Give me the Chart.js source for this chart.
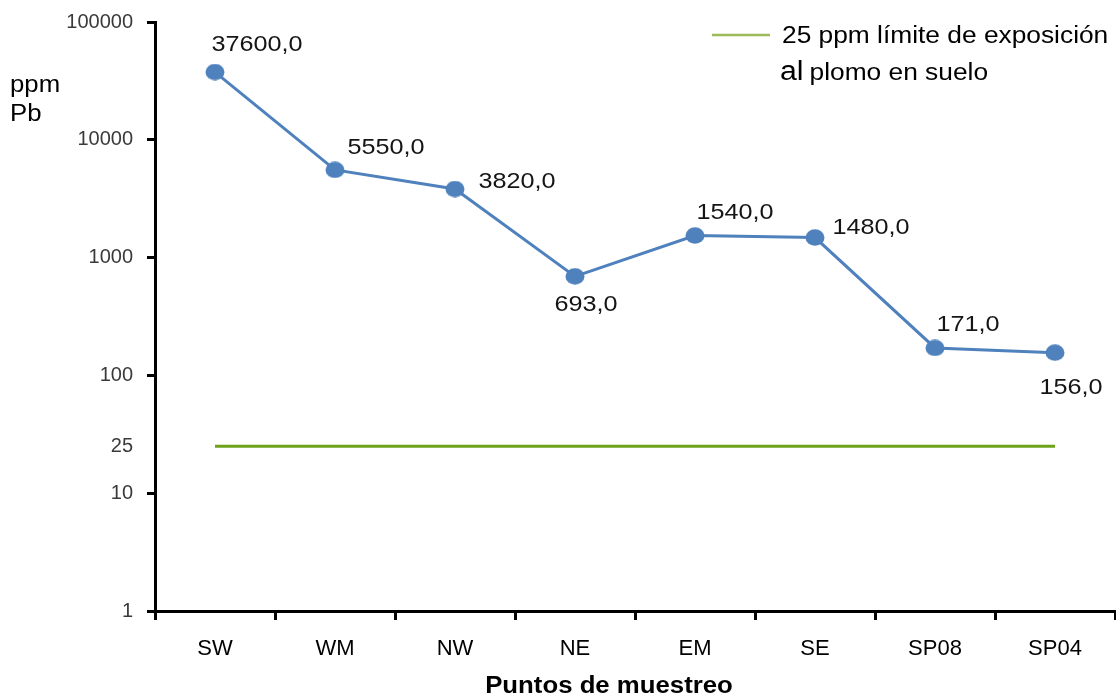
<!DOCTYPE html>
<html>
<head>
<meta charset="utf-8">
<script src="https://cdn.jsdelivr.net/npm/chart.js@4/dist/chart.umd.min.js"></script>
<style>
  html, body { margin: 0; padding: 0; background: #ffffff; }
  #wrap { position: relative; width: 1116px; height: 698px; }
</style>
</head>
<body>
<div id="wrap"><canvas id="c" width="1116" height="698"></canvas></div>
<script>
// Sampling points and measured lead concentration (ppm)
const categories = ['SW', 'WM', 'NW', 'NE', 'EM', 'SE', 'SP08', 'SP04'];
const leadPpm = [37600, 5550, 3820, 693, 1540, 1480, 171, 156];
// Soil exposure limit (ppm)
const exposureLimit = [25, 25, 25, 25, 25, 25, 25, 25];
// Logarithmic axis ticks
const yTickValues = [1, 10, 25, 100, 1000, 10000, 100000];

// Where each value label sits relative to its point (dx, dy)
const labelOffsets = [
  [42, -27], [51, -22], [62, -7], [11, 28], [40, -23], [56, -10], [33, -23], [16, 35]
];

const FONT = '"Liberation Sans", Arial, sans-serif';
const STRETCH = 1.12;

// Slightly wide oval marker
function makeMarker(color) {
  const c = document.createElement('canvas');
  c.width = 20; c.height = 17;
  const g = c.getContext('2d');
  g.fillStyle = color;
  g.beginPath();
  g.ellipse(10, 8.5, 9.5, 8.2, 0, 0, Math.PI * 2);
  g.fill();
  return c;
}

function wideText(ctx, txt, x, y, align) {
  ctx.save();
  ctx.translate(x, y);
  ctx.scale(STRETCH, 1);
  ctx.textAlign = align;
  ctx.fillText(txt, 0, 0);
  const w = ctx.measureText(txt).width * STRETCH;
  ctx.restore();
  return w;
}

const overlay = {
  id: 'overlay',
  afterDatasetsDraw(chart) {
    const ctx = chart.ctx;
    const meta = chart.getDatasetMeta(0);
    ctx.save();
    ctx.textBaseline = 'middle';
    ctx.font = '22.5px ' + FONT;
    ctx.fillStyle = '#151515';
    meta.data.forEach((pt, i) => {
      const txt = leadPpm[i].toFixed(1).replace('.', ',');
      wideText(ctx, txt, pt.x + labelOffsets[i][0], pt.y + labelOffsets[i][1], 'center');
    });

    // y-axis title
    ctx.fillStyle = '#000';
    ctx.font = '23px ' + FONT;
    wideText(ctx, 'ppm', 10, 86, 'left');
    wideText(ctx, 'Pb', 10, 115, 'left');

    // x-axis title
    ctx.font = 'bold 23px ' + FONT;
    wideText(ctx, 'Puntos de muestreo', 609, 687, 'center');

    // legend
    ctx.strokeStyle = '#9BBB59';
    ctx.lineWidth = 2.5;
    ctx.beginPath();
    ctx.moveTo(712, 35);
    ctx.lineTo(770, 35);
    ctx.stroke();
    ctx.font = '23.5px ' + FONT;
    wideText(ctx, '25 ppm límite de exposición', 782, 37, 'left');
    ctx.textBaseline = 'alphabetic';
    ctx.font = '27px ' + FONT;
    const w = wideText(ctx, 'al', 780, 80, 'left');
    ctx.font = '23.5px ' + FONT;
    wideText(ctx, 'plomo en suelo', 780 + w + 6, 80, 'left');
    ctx.restore();
  }
};

new Chart(document.getElementById('c'), {
  type: 'line',
  data: {
    labels: categories,
    datasets: [
      {
        data: leadPpm,
        borderColor: '#4F81BD',
        backgroundColor: '#4F81BD',
        borderWidth: 3,
        pointStyle: makeMarker('#4F81BD'),
        pointRadius: 9,
        pointHoverRadius: 9,
        tension: 0
      },
      {
        data: exposureLimit,
        borderColor: '#6FA21B',
        borderWidth: 3,
        pointRadius: 0,
        tension: 0
      }
    ]
  },
  options: {
    responsive: false,
    animation: false,
    devicePixelRatio: 1,
    layout: { autoPadding: false, padding: { left: 0, right: 1, top: 22, bottom: 0 } },
    plugins: { legend: { display: false }, tooltip: { enabled: false } },
    scales: {
      x: {
        type: 'category',
        offset: true,
        grid: { offset: true, drawOnChartArea: false, drawTicks: true, tickLength: 9, color: '#000', lineWidth: 3 },
        border: { display: true, color: '#000', width: 3 },
        ticks: { color: '#000', font: { family: FONT, size: 22 }, padding: 16, maxRotation: 0, autoSkip: false },
        afterFit(scale) { scale.height = 87; scale.paddingLeft = 0; scale.paddingRight = 0; }
      },
      y: {
        type: 'logarithmic',
        min: 1,
        max: 100000,
        afterBuildTicks(scale) { scale.ticks = yTickValues.map(v => ({ value: v })); },
        grid: {
          drawOnChartArea: false, drawTicks: true, tickLength: 8, lineWidth: 3,
          color: c => (c.tick && c.tick.value === 25) ? 'rgba(0,0,0,0)' : '#000'
        },
        border: { display: true, color: '#000', width: 3 },
        ticks: {
          color: '#3a3a3a', font: { family: FONT, size: 20 }, padding: 14, autoSkip: false,
          callback: v => String(v)
        },
        afterFit(scale) { scale.width = 155; scale.paddingTop = 0; scale.paddingBottom = 0; }
      }
    }
  },
  plugins: [overlay]
});
</script>
</body>
</html>
